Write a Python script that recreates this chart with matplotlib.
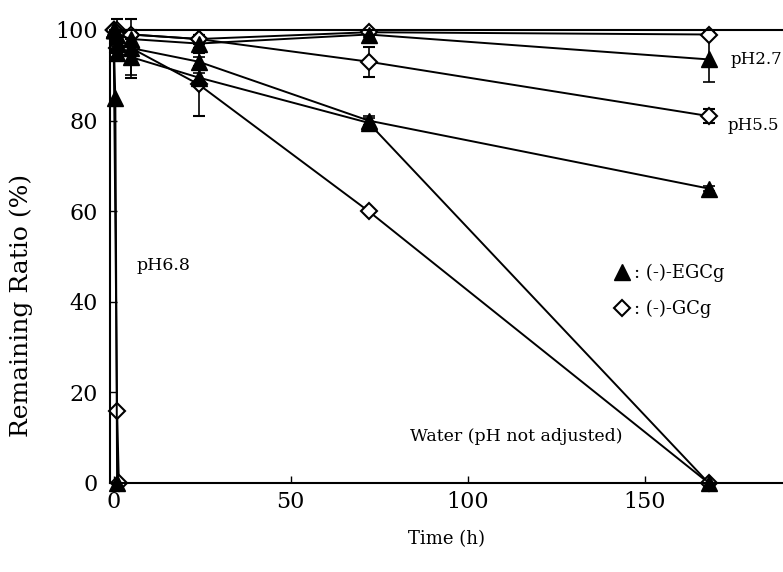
import matplotlib
matplotlib.use("Agg")
import matplotlib.pyplot as plt
from matplotlib.lines import Line2D

plt.rcParams['font.family'] = ['DejaVu Serif', 'DejaVu Sans']

# sampling times (h)
hours = [0, 1, 5, 24, 72, 168]
hours_egcg_ph68 = [0, 0.5, 1]
hours_gcg_ph68 = [0, 1, 1.5]

# (-)-EGCg
egcg_ph27 = [100, 99, 98, 97, 99, 93.5]
egcg_ph27_err = [0, 1, 1, 1, 0.5, 5]
egcg_ph55 = [100, 97, 96, 93, 80, 65]
egcg_ph55_err = [0, 1, 1, 1, 1, 0.5]
egcg_water = [100, 95, 94, 89.5, 79.5, 0]
egcg_water_err = [0, 1, 4, 1, 1, 0]
egcg_ph68 = [100, 85, 0]

# (-)-GCg
gcg_ph27 = [100, 100, 99, 98, 99.5, 99]
gcg_ph27_err = [0, 2.5, 1, 1, 0.5, 0.5]
gcg_ph55 = [100, 99, 99, 98, 93, 81]
gcg_ph55_err = [0, 1, 1, 1, 3.3, 1.5]
gcg_water = [100, 96, 96, 88, 60, 0]
gcg_water_err = [0, 1, 6.5, 7, 0.5, 0]
gcg_ph68 = [100, 16, 0]

fig = plt.figure(figsize=(7.83, 5.72), dpi=100)
ax = fig.add_axes([0.1405, 0.1556, 0.8595, 0.792])

tri = dict(marker='^', markersize=11, color='black', mfc='black', mec='black')
dia = dict(marker='D', markersize=8, color='black', mfc='white', mec='black', mew=1.5)
common = dict(lw=1.4, elinewidth=1.2, capsize=4, capthick=1.2, clip_on=False)

# GCg first so the triangles sit on top
for y, e in [(gcg_ph27, gcg_ph27_err), (gcg_ph55, gcg_ph55_err),
             (gcg_water, gcg_water_err)]:
    ax.errorbar(hours, y, yerr=e, **dia, **common)
ax.plot(hours_gcg_ph68, gcg_ph68, lw=1.4, clip_on=False, **dia)
for y, e in [(egcg_ph27, egcg_ph27_err), (egcg_ph55, egcg_ph55_err),
             (egcg_water, egcg_water_err)]:
    ax.errorbar(hours, y, yerr=e, **tri, **common)
ax.plot(hours_egcg_ph68, egcg_ph68, lw=1.4, clip_on=False, **tri)

ax.set_xlim(-1, 189)
ax.set_ylim(0, 100)
ax.set_xticks([0, 50, 100, 150])
ax.set_yticks([0, 20, 40, 60, 80, 100])
ax.tick_params(direction='in', length=5, width=1, labelsize=16)
ax.tick_params(axis='y', pad=9)
ax.tick_params(axis='x', pad=6)
ax.spines['right'].set_visible(False)
for s in ['left', 'bottom', 'top']:
    ax.spines[s].set_linewidth(1.5)

ax.set_xlabel('Time (h)', fontsize=13, labelpad=12)
ax.set_ylabel('Remaining Ratio (%)', fontsize=18)
ax.yaxis.set_label_coords(-0.114, 0.393)

ax.text(174.3, 93.4, 'pH2.7', fontsize=12, va='center', ha='left')
ax.text(173.3, 79, 'pH5.5', fontsize=12, va='center', ha='left')
ax.text(6.6, 48, 'pH6.8', fontsize=12.5, va='center', ha='left')
ax.text(83.8, 10.2, 'Water (pH not adjusted)', fontsize=12.5, va='center', ha='left')

handles = [Line2D([], [], ls='none', **tri), Line2D([], [], ls='none', **dia)]
ax.legend(handles, [': (-)-EGCg', ': (-)-GCg'], loc='center left',
          bbox_to_anchor=(0.72, 0.424), frameon=False, fontsize=13,
          handletextpad=0.1, handlelength=1.2, labelspacing=1.0)

fig.savefig('out.png', dpi=100)
